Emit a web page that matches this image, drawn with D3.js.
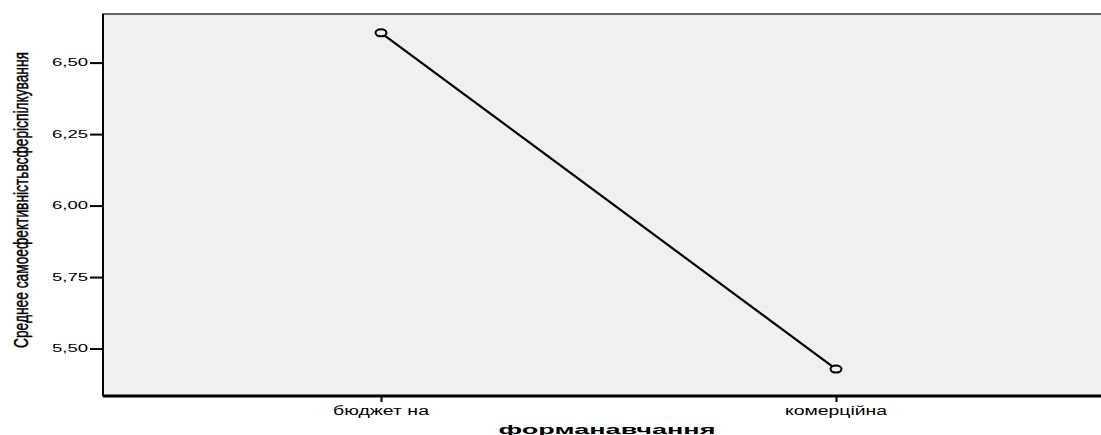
<!DOCTYPE html>
<html>
<head>
<meta charset="utf-8">
<script src="https://cdn.jsdelivr.net/npm/d3@7"></script>
<style>
  body { margin: 0; background: #fff; }
  text { font-family: Arial, "Liberation Sans", sans-serif; fill: #000; }
</style>
</head>
<body>
<div class="chart"></div>
<script>
// data
var categories = ['бюджет на', 'комерційна'];
var means = [6.604, 5.428];
var yTicks = [5.50, 5.75, 6.00, 6.25, 6.50];
var yTickLabels = ['5,50', '5,75', '6,00', '6,25', '6,50'];
var xTitle = 'форманавчання';
var yTitle = 'Среднее самоефективністьвсферіспілкування';

var w = 1101,
    h = 435;

var pLeft = 103, pTop = 14, pRight = 1114, pBottom = 396;

var svg = d3.select('.chart').append('svg').attr('width', w).attr('height', h);

var x = d3.scalePoint().domain(categories).range([pLeft, pRight]).padding(0.611);
var y = d3.scaleLinear().domain([5.334, 6.670]).range([pBottom, pTop]);

// plot background
svg.append('rect')
   .attr('x', pLeft).attr('y', pTop)
   .attr('width', pRight - pLeft).attr('height', pBottom - pTop)
   .attr('fill', '#f0f0f0')
   .attr('stroke', '#333').attr('stroke-width', 1.5);

// y axis
var yAxis = svg.append('g').attr('transform', 'translate(' + pLeft + ',0)')
  .call(d3.axisLeft(y).tickValues(yTicks).tickSize(13).tickFormat(''));
yAxis.select('.domain').attr('stroke', '#000').attr('stroke-width', 2)
  .attr('d', 'M0,' + pTop + 'V' + pBottom);
yAxis.selectAll('.tick line').attr('stroke', '#000').attr('stroke-width', 2);

svg.selectAll('.ytl')
   .data(yTicks)
   .enter().append('text')
   .attr('class', 'ytl')
   .attr('x', 52)
   .attr('y', function (d) { return y(d) + 3.5; })
   .attr('font-size', 10)
   .attr('textLength', 36)
   .attr('lengthAdjust', 'spacingAndGlyphs')
   .text(function (d, i) { return yTickLabels[i]; });

// x axis
var xAxis = svg.append('g').attr('transform', 'translate(0,' + pBottom + ')')
  .call(d3.axisBottom(x).tickSize(6).tickFormat(''));
xAxis.select('.domain').attr('stroke', '#000').attr('stroke-width', 3)
  .attr('d', 'M' + pLeft + ',0H' + pRight);
xAxis.selectAll('.tick line').attr('stroke', '#000').attr('stroke-width', 2);

var xLens = [96, 102];
svg.selectAll('.xtl')
   .data(categories)
   .enter().append('text')
   .attr('class', 'xtl')
   .attr('x', function (d) { return x(d); })
   .attr('y', 415)
   .attr('text-anchor', 'middle')
   .attr('font-size', 12)
   .attr('textLength', function (d, i) { return xLens[i]; })
   .attr('lengthAdjust', 'spacingAndGlyphs')
   .text(function (d) { return d; });

// titles
svg.append('text')
   .attr('x', 607).attr('y', 434)
   .attr('text-anchor', 'middle')
   .attr('font-size', 13)
   .attr('font-weight', 'bold')
   .attr('textLength', 217)
   .attr('lengthAdjust', 'spacingAndGlyphs')
   .text(xTitle);

svg.append('text')
   .attr('transform', 'translate(28,200) rotate(-90)')
   .attr('text-anchor', 'middle')
   .attr('font-size', 21)
   .attr('stroke', '#000')
   .attr('stroke-width', 0.5)
   .attr('textLength', 296)
   .attr('lengthAdjust', 'spacingAndGlyphs')
   .text(yTitle);

// line + markers
var pts = categories.map(function (c, i) { return [x(c), y(means[i])]; });

svg.append('path')
   .attr('d', d3.line()(pts))
   .attr('fill', 'none')
   .attr('stroke', '#000')
   .attr('stroke-width', 2.2);

svg.selectAll('.pt')
   .data(pts)
   .enter().append('ellipse')
   .attr('class', 'pt')
   .attr('cx', function (d) { return d[0]; })
   .attr('cy', function (d) { return d[1]; })
   .attr('rx', 5.5)
   .attr('ry', 3.5)
   .attr('fill', '#f0f0f0')
   .attr('stroke', '#000')
   .attr('stroke-width', 2);
</script>
</body>
</html>
